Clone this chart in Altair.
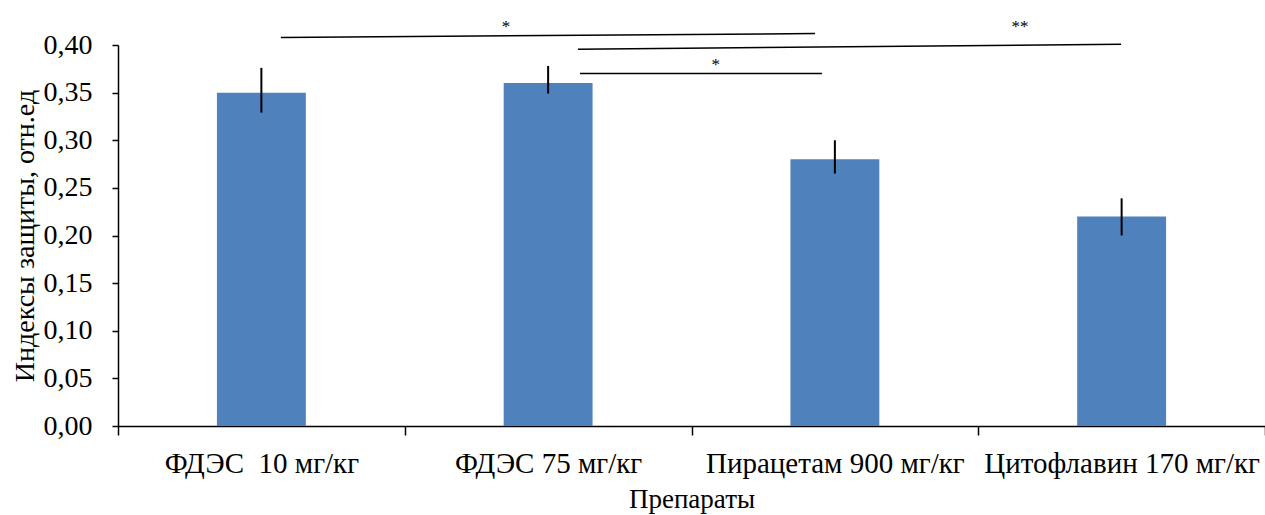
import altair as alt
import pandas as pd

categories = ["ФДЭС\u00a0 10 мг/кг", "ФДЭС 75 мг/кг", "Пирацетам 900 мг/кг", "Цитофлавин 170 мг/кг"]
values = [0.35, 0.36, 0.28, 0.22]
err_low = [0.329, 0.349, 0.265, 0.200]
err_high = [0.376, 0.378, 0.300, 0.239]

# significance brackets (x in category-band units, 0..4)
sig_x1 = [0.568, 1.604, 1.611]
sig_x2 = [2.431, 3.498, 2.455]
sig_y1 = [0.408, 0.3955, 0.3700]
sig_y2 = [0.412, 0.4007, 0.3700]
star_x = [1.353, 3.146, 2.085]
star_y = [0.423, 0.423, 0.3835]
star_text = ["*", "**", "*"]

y_ticks = [0.0, 0.05, 0.10, 0.15, 0.20, 0.25, 0.30, 0.35, 0.40]

df = pd.DataFrame({"cat": categories, "value": values, "lo": err_low, "hi": err_high})
sig = pd.DataFrame({"x1": sig_x1, "x2": sig_x2, "y1": sig_y1, "y2": sig_y2})
stars = pd.DataFrame({"x": star_x, "y": star_y, "t": star_text})

FONT = "Liberation Serif"
W, H = 1147, 381

x_enc = alt.X(
    "cat:N",
    sort=categories,
    scale=alt.Scale(paddingInner=0, paddingOuter=0),
    axis=alt.Axis(
        title="Препараты",
        labelAngle=0,
        tickBand="extent",
        tickSize=9,
        tickColor="black",
        domainColor="black",
        domainWidth=1.5,
        tickWidth=1.5,
        labelFont=FONT,
        labelFontSize=29,
        labelLimit=0,
        labelPadding=14,
        labelColor="black",
        titleFont=FONT,
        titleFontSize=27,
        titleFontWeight="normal",
        titlePadding=8,
        titleColor="black",
    ),
)
y_scale = alt.Scale(domain=[0, 0.4], nice=False, zero=True)
y_enc = alt.Y(
    "value:Q",
    scale=y_scale,
    axis=alt.Axis(
        title="Индексы защиты, отн.ед",
        values=y_ticks,
        labelExpr="replace(format(datum.value, '.2f'), '.', ',')",
        grid=False,
        tickSize=6,
        tickColor="black",
        tickWidth=1.5,
        domainColor="black",
        domainWidth=1.5,
        labelFont=FONT,
        labelFontSize=28,
        labelPadding=20,
        labelColor="black",
        titleFont=FONT,
        titleFontSize=28,
        titleFontWeight="normal",
        titlePadding=4,
        titleColor="black",
    ),
)

bars = alt.Chart(df).mark_bar(
    color="#4F81BD", width=alt.RelativeBandSize(0.31)
).encode(x=x_enc, y=y_enc)

errs = alt.Chart(df).mark_rule(color="black", strokeWidth=2).encode(
    x=alt.X("cat:N", sort=categories),
    y=alt.Y("lo:Q", scale=y_scale),
    y2="hi:Q",
)

base_layer = alt.layer(bars, errs)

ann_x = alt.Scale(domain=[0, 4], nice=False, zero=False)
lines = alt.Chart(sig).mark_rule(color="black", strokeWidth=1.5).encode(
    x=alt.X("x1:Q", scale=ann_x, axis=None),
    x2="x2:Q",
    y=alt.Y("y1:Q", scale=y_scale),
    y2="y2:Q",
)
star_marks = alt.Chart(stars).mark_text(
    font=FONT, fontSize=17, color="black", baseline="middle", dy=4
).encode(
    x=alt.X("x:Q", scale=ann_x, axis=None),
    y=alt.Y("y:Q", scale=y_scale),
    text="t:N",
)
ann_layer = alt.layer(lines, star_marks)

chart = (
    alt.layer(base_layer, ann_layer)
    .resolve_scale(x="independent")
    .properties(
        width=W,
        height=H,
        autosize=alt.AutoSizeParams(type="none"),
        padding={"left": 118, "top": 45, "right": 0, "bottom": 89},
        background="white",
    )
    .configure_view(stroke=None)
)

chart.save("out.html", embed_options={"renderer": "svg", "actions": False})
